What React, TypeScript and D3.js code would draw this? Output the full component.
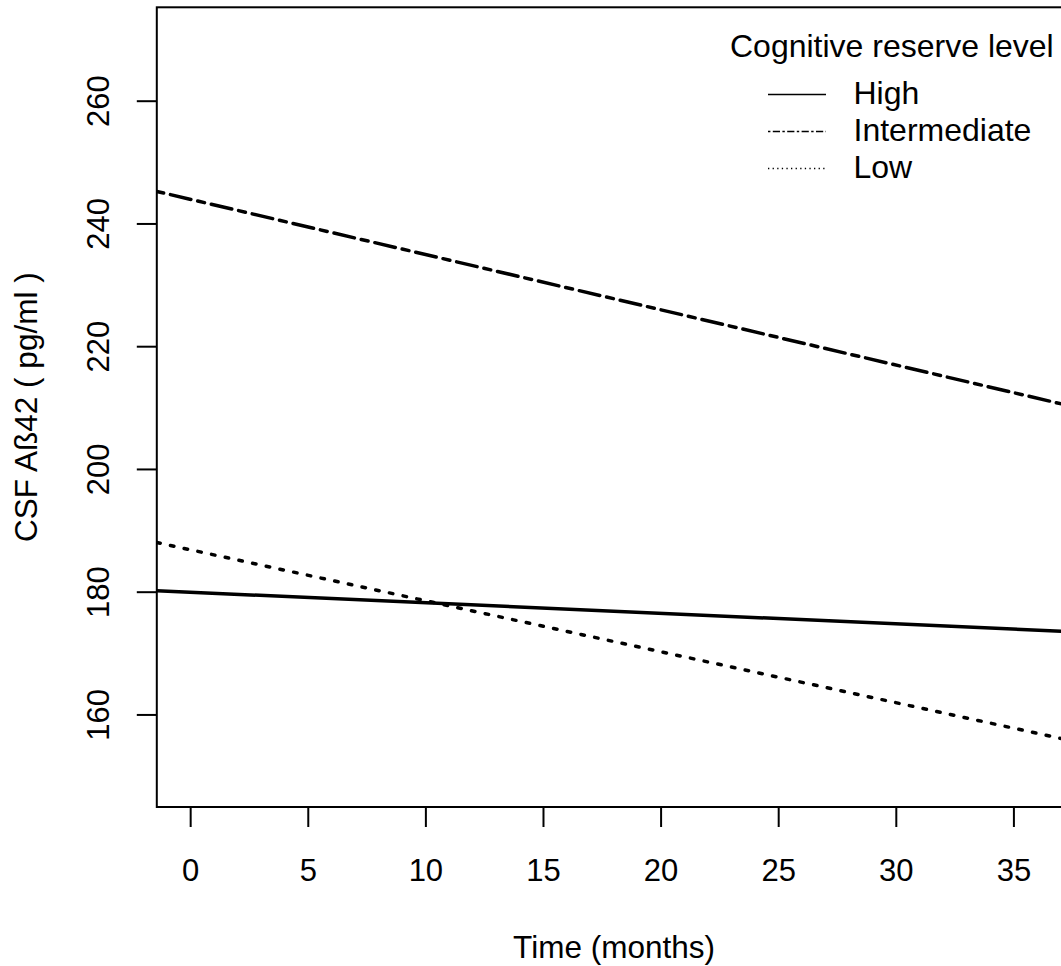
import React from "react";
import * as d3 from "d3";

// Data: predicted CSF Aβ42 trajectories (values at month 0 and month 36)
const months = [0, 36];
const seriesNames = ["High", "Intermediate", "Low"];
const highValues = [180.0, 173.8];
const intermediateValues = [244.0, 211.6];
const lowValues = [186.9, 157.0];
const xTicks = [0, 5, 10, 15, 20, 25, 30, 35];
const yTicks = [160, 180, 200, 220, 240, 260];
const legendTitle = "Cognitive reserve level";
const xTitle = "Time (months)";
const yTitle = "CSF Aß42 ( pg/ml )";

const W = 1061;
const H = 966;
const FONT = "'Liberation Sans', Arial, Helvetica, sans-serif";
const FS = 31;

export default function App() {
  const x = d3.scaleLinear().domain([-1.44, 37.44]).range([156.8, 1071.3]);
  const y = d3.scaleLinear().domain([145.0, 275.3]).range([807, 7.3]);
  const [x0, x1] = x.domain();

  const styles: Record<string, { dash: string; legendDash: string }> = {
    High: { dash: "none", legendDash: "none" },
    Intermediate: { dash: "7,7,21,7", legendDash: "2.4,2.4,7.2,2.4" },
    Low: { dash: "3.5,10.5", legendDash: "1.3,3.3" },
  };
  const valuesByName: Record<string, number[]> = {
    High: highValues,
    Intermediate: intermediateValues,
    Low: lowValues,
  };

  // extend each straight line (abline-like) across the full plot region
  const extend = (vals: number[]) => {
    const slope = (vals[1] - vals[0]) / (months[1] - months[0]);
    return [
      [x0, vals[0] + slope * (x0 - months[0])],
      [x1, vals[0] + slope * (x1 - months[0])],
    ] as [number, number][];
  };
  const line = d3
    .line<[number, number]>()
    .x((d) => x(d[0]))
    .y((d) => y(d[1]));

  const left = x.range()[0];
  const right = x.range()[1];
  const top = y.range()[1];
  const bottom = y.range()[0];

  return (
    <svg
      width={W}
      height={H}
      style={{ position: "absolute", left: 0, top: 0, background: "#fff" }}
      fontFamily={FONT}
    >
      <defs>
        <clipPath id="plotclip">
          <rect x={left} y={top} width={right - left} height={bottom - top} />
        </clipPath>
      </defs>
      <rect x={0} y={0} width={W} height={H} fill="#fff" />

      {/* lines */}
      <g clipPath="url(#plotclip)">
        {seriesNames.map((n) => (
          <path
            key={n}
            d={line(extend(valuesByName[n])) || ""}
            fill="none"
            stroke="#000"
            strokeWidth={3.5}
            strokeDasharray={styles[n].dash}
            strokeLinecap="round"
          />
        ))}
      </g>

      {/* box */}
      <rect
        x={left}
        y={top}
        width={right - left}
        height={bottom - top}
        fill="none"
        stroke="#000"
        strokeWidth={2}
      />

      {/* x axis */}
      {xTicks.map((t) => (
        <g key={t}>
          <line x1={x(t)} x2={x(t)} y1={bottom} y2={bottom + 20} stroke="#000" strokeWidth={2} />
          <text x={x(t)} y={881} textAnchor="middle" fontSize={FS} fill="#000">
            {t}
          </text>
        </g>
      ))}
      <text x={(left + right) / 2} y={958} textAnchor="middle" fontSize={31.5} fill="#000">
        {xTitle}
      </text>

      {/* y axis */}
      {yTicks.map((t) => (
        <g key={t}>
          <line x1={left - 20} x2={left} y1={y(t)} y2={y(t)} stroke="#000" strokeWidth={2} />
          <text
            transform={`translate(108.5,${y(t)}) rotate(-90)`}
            textAnchor="middle"
            fontSize={FS}
            fill="#000"
          >
            {t}
          </text>
        </g>
      ))}
      <text
        transform={`translate(37,${(top + bottom) / 2}) rotate(-90)`}
        textAnchor="middle"
        fontSize={31.5}
        fill="#000"
      >
        {yTitle}
      </text>

      {/* legend */}
      <text x={730} y={57} fontSize={32} fill="#000">
        {legendTitle}
      </text>
      {seriesNames.map((n, i) => {
        const ly = 94.5 + i * 37;
        return (
          <g key={n}>
            <line
              x1={768}
              x2={826}
              y1={ly}
              y2={ly}
              stroke="#000"
              strokeWidth={1.4}
              strokeDasharray={styles[n].legendDash}
            />
            <text x={853.5} y={ly + 9.5} fontSize={32} fill="#000">
              {n}
            </text>
          </g>
        );
      })}
    </svg>
  );
}
